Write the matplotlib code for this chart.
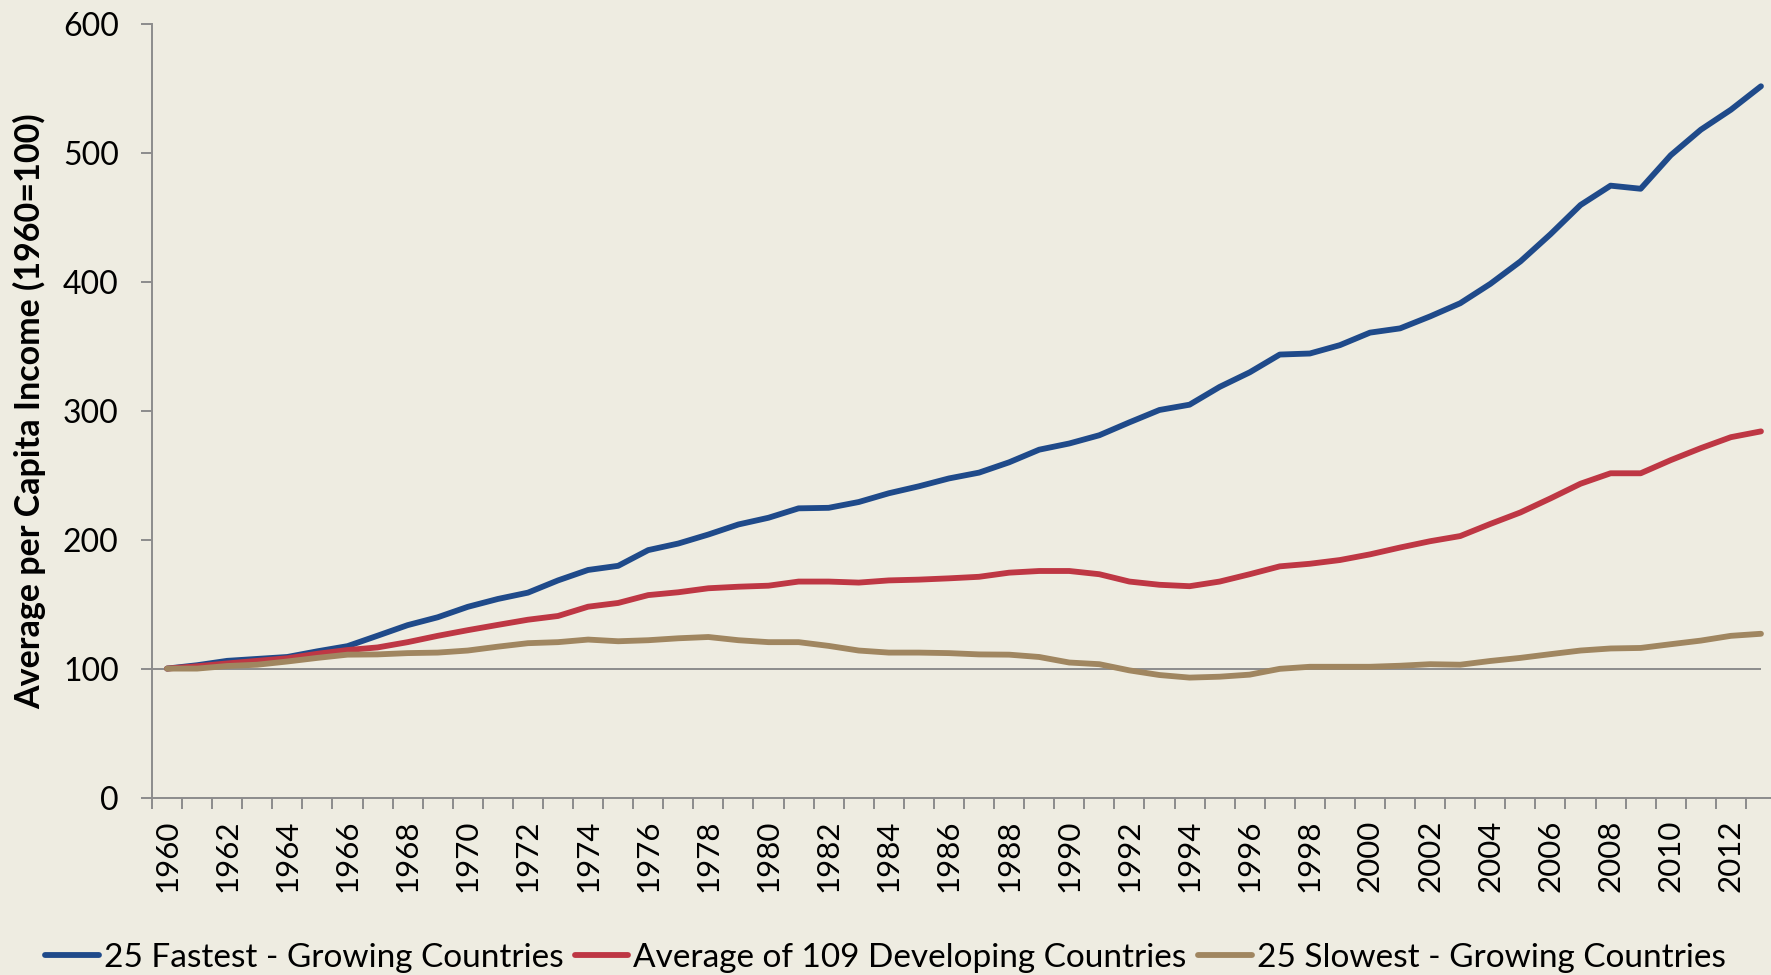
import matplotlib
matplotlib.use("Agg")
import matplotlib.pyplot as plt
import numpy as np

years = list(range(1960, 2014))

fastest = [100, 102.6, 106, 107.5, 109, 113.4, 117.4, 125.5, 133.7, 139.8,
           147.9, 154, 158.9, 168.4, 176.5, 179.7, 191.9, 197, 204, 211.8,
           217, 224.3, 224.7, 229.2, 236, 241.4, 247.5, 252, 260, 269.8,
           274.6, 281, 291, 300.6, 304.7, 318.5, 329.8, 343.6, 344.4, 350.9,
           360.6, 363.9, 373.2, 383.4, 398.4, 415.8, 436.9, 459.6, 474.6, 472.2,
           498.2, 518, 533.5, 551.7]

average = [100, 101.8, 104, 106, 108, 111.5, 114.4, 116.4, 120.5, 125.4,
           129.8, 133.9, 137.9, 140.8, 148, 150.9, 157, 159.2, 162.3, 163.5,
           164.3, 167.5, 167.5, 166.7, 168.4, 169, 170, 171.2, 174.4, 175.7,
           175.7, 173.2, 167.5, 165, 163.9, 167.5, 173.2, 179.3, 181.3, 184.2,
           188.6, 193.9, 198.8, 202.8, 212.2, 221.1, 232, 243.4, 251.5, 251.5,
           261.7, 271, 279.5, 284]

slowest = [100, 100, 102, 103, 105.5, 108.3, 110.8, 111, 112, 112.4,
           114, 117, 119.7, 120.5, 122.5, 121.2, 122, 123.5, 124.5, 122,
           120.5, 120.5, 117.6, 114, 112.4, 112.4, 112, 111, 110.8, 109,
           104.7, 103.4, 98.6, 95, 93, 93.7, 95.3, 99.8, 101.4, 101.4,
           101.4, 102.2, 103.4, 103, 105.9, 108.3, 111.2, 114, 115.6, 116,
           118.9, 121.7, 125.4, 127]

labels = ["25 Fastest - Growing Countries",
          "Average of 109 Developing Countries",
          "25 Slowest - Growing Countries"]
colors = ["#1F4A8A", "#BE3744", "#A08660"]

bg = "#EEECE1"
grey = "#8C8C8C"
font = "Lato"

fig = plt.figure(figsize=(17.71, 9.75), dpi=100, facecolor=bg)
ax = fig.add_axes([152 / 1771, 1 - 797.5 / 975, 1624 / 1771, 773.5 / 975])
ax.set_facecolor(bg)

x = np.arange(len(years))
ax.hlines(100, -0.5, len(years) - 1, color=grey, lw=1.4, zorder=1)
for series, lab, col in zip([fastest, average, slowest], labels, colors):
    ax.plot(x, series, color=col, lw=4.2, label=lab, solid_capstyle="round", zorder=3)

ax.set_xlim(-0.5, len(years) - 0.5)
ax.set_ylim(0, 600)

for s in ["top", "right"]:
    ax.spines[s].set_visible(False)
for s in ["left", "bottom"]:
    ax.spines[s].set_color(grey)
    ax.spines[s].set_linewidth(1.4)

# tick marks between categories, labels every second year
ax.set_xticks(np.arange(-0.5, len(years), 1))
ax.set_xticklabels([])
ax.set_xticks(x[::2], minor=True)
ax.set_xticklabels([str(y) for y in years[::2]], minor=True, rotation=90,
                   fontsize=22.5, family=font)
ax.tick_params(axis="x", which="major", direction="out", length=8, width=1.4, color=grey)
ax.tick_params(axis="x", which="minor", length=0, pad=16)

ax.set_yticks(range(0, 601, 100))
ax.set_yticklabels([str(v) for v in range(0, 601, 100)], fontsize=23, family=font)
ax.tick_params(axis="y", direction="out", length=8, width=1.4, color=grey, pad=16)

ax.set_ylabel("Average per Capita Income (1960=100)", fontsize=24.5, family=font,
              fontweight="bold")
ax.yaxis.set_label_coords(-0.065, 0.5)

fig.legend(loc="center", bbox_to_anchor=(0.5, 1 - 958 / 975), ncol=3, frameon=False,
           prop={"family": font, "size": 24}, handlelength=1.6, handletextpad=0.15,
           columnspacing=0.35, borderaxespad=0)

fig.savefig("out.png", dpi=100, facecolor=bg)
